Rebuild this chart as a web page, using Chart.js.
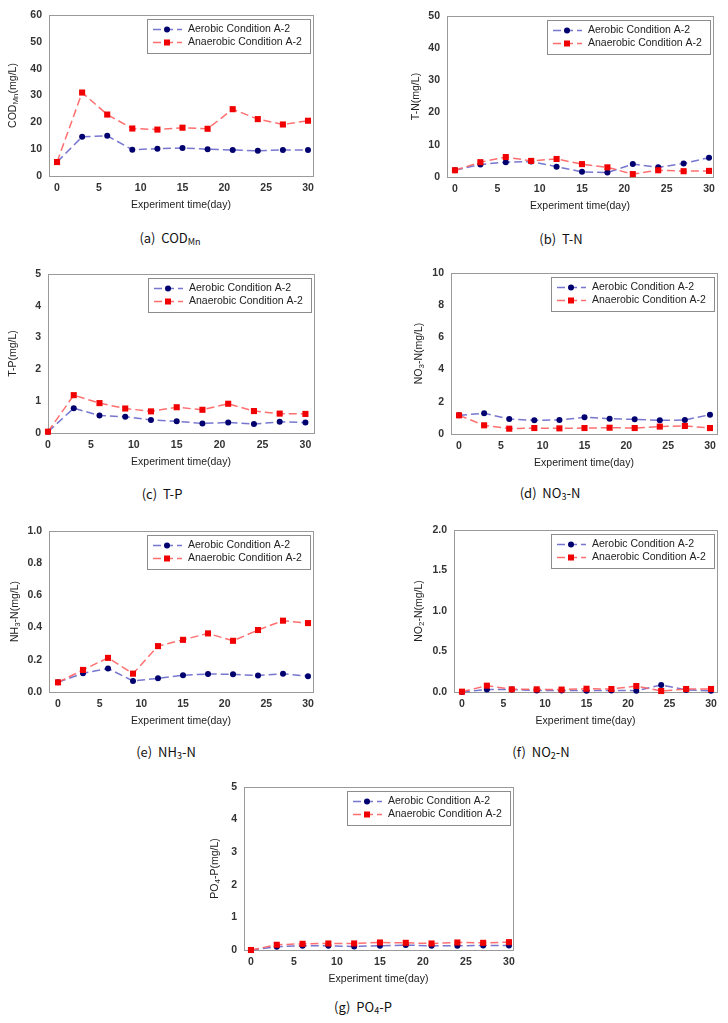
<!DOCTYPE html>
<html>
<head>
<meta charset="utf-8">
<script src="https://cdn.jsdelivr.net/npm/chart.js@4.4.0/dist/chart.umd.min.js"></script>
<style>
html, body { margin: 0; padding: 0; background: #fff; }
body { position: relative; width: 728px; height: 1023px; overflow: hidden; }
canvas.panel { position: absolute; }
.caption {
    position: absolute;
    transform: translate(-50%, -50%);
    font-family: 'Liberation Sans Narrow', 'Noto Sans CJK KR', sans-serif;
    font-size: 13px;
    color: #111;
    white-space: nowrap;
}
.caption sub { font-size: 9px; vertical-align: -2px; }
</style>
</head>
<body>
<script>
// Sampling days (x axis)
const days = [0, 3, 6, 9, 12, 15, 18, 21, 24, 27, 30];
const xTicks = [0, 5, 10, 15, 20, 25, 30];

// (a) COD_Mn
const codAerobic = [5.2, 14.6, 15.0, 9.8, 10.2, 10.4, 10.0, 9.7, 9.4, 9.7, 9.7];
const codAnaerobic = [5.2, 31.1, 22.9, 17.7, 17.3, 18.0, 17.6, 24.9, 21.2, 19.2, 20.6];
const codTicks = [0, 10, 20, 30, 40, 50, 60];
const codTickLabels = ['0', '10', '20', '30', '40', '50', '60'];

// (b) T-N
const tnAerobic = [2.1, 3.9, 4.6, 4.8, 3.2, 1.6, 1.4, 4.0, 3.0, 4.2, 6.0];
const tnAnaerobic = [2.1, 4.6, 6.2, 5.0, 5.6, 4.0, 3.0, 0.9, 2.1, 1.8, 1.9];
const tnTicks = [0, 10, 20, 30, 40, 50];
const tnTickLabels = ['0', '10', '20', '30', '40', '50'];

// (c) T-P
const tpAerobic = [0.04, 0.78, 0.55, 0.51, 0.41, 0.37, 0.30, 0.33, 0.28, 0.35, 0.33];
const tpAnaerobic = [0.04, 1.19, 0.94, 0.77, 0.68, 0.81, 0.73, 0.92, 0.69, 0.61, 0.60];
const tpTicks = [0, 1, 2, 3, 4, 5];
const tpTickLabels = ['0', '1', '2', '3', '4', '5'];

// (d) NO3-N
const no3Aerobic = [1.16, 1.29, 0.93, 0.85, 0.87, 1.04, 0.95, 0.91, 0.85, 0.87, 1.2];
const no3Anaerobic = [1.16, 0.54, 0.33, 0.37, 0.35, 0.37, 0.39, 0.37, 0.46, 0.50, 0.37];
const no3Ticks = [0, 2, 4, 6, 8, 10];
const no3TickLabels = ['0', '2', '4', '6', '8', '10'];

// (e) NH3-N
const nh3Aerobic = [0.06, 0.116, 0.146, 0.069, 0.085, 0.104, 0.112, 0.110, 0.102, 0.114, 0.098];
const nh3Anaerobic = [0.06, 0.137, 0.212, 0.114, 0.285, 0.324, 0.364, 0.318, 0.385, 0.443, 0.428];
const nh3Ticks = [0, 0.2, 0.4, 0.6, 0.8, 1.0];
const nh3TickLabels = ['0.0', '0.2', '0.4', '0.6', '0.8', '1.0'];

// (f) NO2-N
const no2Aerobic = [0.0, 0.03, 0.03, 0.02, 0.02, 0.016, 0.02, 0.016, 0.087, 0.025, 0.016];
const no2Anaerobic = [0.004, 0.078, 0.033, 0.033, 0.03, 0.04, 0.037, 0.074, 0.012, 0.037, 0.037];
const no2Ticks = [0, 0.5, 1.0, 1.5, 2.0];
const no2TickLabels = ['0.0', '0.5', '1.0', '1.5', '2.0'];

// (g) PO4-P
const po4Aerobic = [0.0, 0.10, 0.13, 0.13, 0.11, 0.13, 0.15, 0.13, 0.13, 0.14, 0.14];
const po4Anaerobic = [0.0, 0.16, 0.19, 0.20, 0.20, 0.23, 0.22, 0.20, 0.23, 0.22, 0.24];
const po4Ticks = [0, 1, 2, 3, 4, 5];
const po4TickLabels = ['0', '1', '2', '3', '4', '5'];

const seriesNames = ['Aerobic Condition A-2', 'Anaerobic Condition A-2'];

// Styles
const BLUE_LINE = 'rgba(95, 95, 200, 0.85)';
const BLUE_MARK = '#00006e';
const RED_LINE = 'rgba(255, 95, 95, 0.9)';
const RED_MARK = '#f00000';
const DASH = [8, 4];
const FRAME = '#9a9a9a';
const TICK_FONT = { family: "'Liberation Sans', Arial, sans-serif", size: 10.5, weight: 'bold' };
const TEXT_FONT = "10.5px 'Liberation Sans', Arial, sans-serif";

// Canvas margins around each plot area
const PAD_L = 56, PAD_T = 10, PAD_R = 12, PAD_B = 40;

// Panel layout (plot area in page pixels)
const panels = [
    { aer: codAerobic, ana: codAnaerobic, ticks: codTicks, labels: codTickLabels,
      title: [['COD', 0], ['Mn', 1], ['(mg/L)', 0]], tOff: 36,
      area: { l: 49, t: 15, r: 313, b: 176 }, xMin: -0.96, xMax: 30.6,
      caption: '(a)&nbsp; COD<sub>Mn</sub>', cap: [170, 238] },
    { aer: tnAerobic, ana: tnAnaerobic, ticks: tnTicks, labels: tnTickLabels,
      title: [['T-N(mg/L)', 0]], tOff: 31,
      area: { l: 447, t: 16, r: 713, b: 177 }, xMin: -0.94, xMax: 30.47,
      caption: '(b)&nbsp; T-N', cap: [561, 238] },
    { aer: tpAerobic, ana: tpAnaerobic, ticks: tpTicks, labels: tpTickLabels,
      title: [['T-P(mg/L)', 0]], tOff: 35,
      area: { l: 48, t: 274, r: 314, b: 433 }, xMin: 0, xMax: 31,
      caption: '(c)&nbsp; T-P', cap: [162, 493] },
    { aer: no3Aerobic, ana: no3Anaerobic, ticks: no3Ticks, labels: no3TickLabels,
      title: [['NO', 0], ['3', 1], ['-N(mg/L)', 0]], tOff: 32,
      area: { l: 451, t: 273, r: 717, b: 434 }, xMin: -0.96, xMax: 30.84,
      caption: '(d)&nbsp; NO<sub>3</sub>-N', cap: [550, 493] },
    { aer: nh3Aerobic, ana: nh3Anaerobic, ticks: nh3Ticks, labels: nh3TickLabels,
      title: [['NH', 0], ['3', 1], ['-N(mg/L)', 0]], tOff: 34,
      area: { l: 49, t: 531, r: 313, b: 692 }, xMin: -1.08, xMax: 30.6,
      caption: '(e)&nbsp; NH<sub>3</sub>-N', cap: [166, 752] },
    { aer: no2Aerobic, ana: no2Anaerobic, ticks: no2Ticks, labels: no2TickLabels,
      title: [['NO', 0], ['2', 1], ['-N(mg/L)', 0]], tOff: 35,
      area: { l: 454, t: 530, r: 717, b: 692 }, xMin: -0.96, xMax: 30.72,
      caption: '(f)&nbsp; NO<sub>2</sub>-N', cap: [541, 752] },
    { aer: po4Aerobic, ana: po4Anaerobic, ticks: po4Ticks, labels: po4TickLabels,
      title: [['PO', 0], ['4', 1], ['-P(mg/L)', 0]], tOff: 29,
      area: { l: 244, t: 787, r: 513, b: 950 }, xMin: -0.81, xMax: 30.47,
      caption: '(g)&nbsp; PO<sub>4</sub>-P', cap: [363, 1007] }
];

// Draw a point marker like the chart's own
function drawMarker(ctx, kind, x, y) {
    ctx.setLineDash([]);
    if (kind === 0) {
        ctx.fillStyle = BLUE_MARK;
        ctx.beginPath();
        ctx.arc(x, y, 3, 0, Math.PI * 2);
        ctx.fill();
    } else {
        ctx.fillStyle = RED_MARK;
        ctx.fillRect(x - 3, y - 3, 6, 6);
    }
}

// Rotated y title with subscripts
function drawYTitle(ctx, parts, cx, cy) {
    const mainFont = TEXT_FONT;
    const subFont = "8px 'Liberation Sans', Arial, sans-serif";
    let total = 0;
    parts.forEach(p => {
        ctx.font = p[1] ? subFont : mainFont;
        total += ctx.measureText(p[0]).width;
    });
    ctx.save();
    ctx.translate(cx, cy);
    ctx.rotate(-Math.PI / 2);
    ctx.fillStyle = '#222';
    ctx.textBaseline = 'middle';
    ctx.textAlign = 'left';
    let x = -total / 2;
    parts.forEach(p => {
        ctx.font = p[1] ? subFont : mainFont;
        ctx.fillText(p[0], x, p[1] ? 3 : 0);
        x += ctx.measureText(p[0]).width;
    });
    ctx.restore();
}

// Frame, legend and axis titles
const panelDecor = {
    id: 'panelDecor',
    beforeDatasetsDraw(chart) {
        const a = chart.chartArea;
        const ctx = chart.ctx;
        ctx.save();
        ctx.strokeStyle = FRAME;
        ctx.lineWidth = 1;
        ctx.strokeRect(Math.round(a.left) + 0.5, Math.round(a.top) + 0.5,
            Math.round(a.right - a.left), Math.round(a.bottom - a.top));
        ctx.restore();
    },
    afterDraw(chart, args, opts) {
        const a = chart.chartArea;
        const ctx = chart.ctx;
        ctx.save();

        // Legend box
        const w = 163, h = 34;
        const bx = Math.round(a.right - 3 - w), by = Math.round(a.top + 4);
        ctx.fillStyle = '#fff';
        ctx.fillRect(bx, by, w, h);
        ctx.strokeStyle = '#8c8c8c';
        ctx.lineWidth = 1;
        ctx.strokeRect(bx + 0.5, by + 0.5, w, h);
        seriesNames.forEach((name, i) => {
            const cy = by + 10.5 + i * 13;
            ctx.strokeStyle = i === 0 ? BLUE_LINE : RED_LINE;
            ctx.lineWidth = 1.5;
            ctx.setLineDash(DASH);
            ctx.beginPath();
            ctx.moveTo(bx + 6, cy);
            ctx.lineTo(bx + 35, cy);
            ctx.stroke();
            drawMarker(ctx, i, bx + 20, cy);
            ctx.fillStyle = '#222';
            ctx.font = TEXT_FONT;
            ctx.textBaseline = 'middle';
            ctx.textAlign = 'left';
            ctx.fillText(name, bx + 41, cy);
        });

        // X title
        ctx.fillStyle = '#222';
        ctx.font = TEXT_FONT;
        ctx.textAlign = 'center';
        ctx.textBaseline = 'middle';
        ctx.fillText('Experiment time(day)', (a.left + a.right) / 2, a.bottom + 29);

        // Y title
        drawYTitle(ctx, opts.title, a.left - opts.tOff, (a.top + a.bottom) / 2);
        ctx.restore();
    }
};

function buildPanel(p) {
    const canvas = document.createElement('canvas');
    canvas.className = 'panel';
    const w = p.area.r - p.area.l + PAD_L + PAD_R;
    const h = p.area.b - p.area.t + PAD_T + PAD_B;
    canvas.width = w;
    canvas.height = h;
    canvas.style.width = w + 'px';
    canvas.style.height = h + 'px';
    canvas.style.left = (p.area.l - PAD_L) + 'px';
    canvas.style.top = (p.area.t - PAD_T) + 'px';
    document.body.appendChild(canvas);

    const cap = document.createElement('div');
    cap.className = 'caption';
    cap.innerHTML = p.caption;
    cap.style.left = p.cap[0] + 'px';
    cap.style.top = p.cap[1] + 'px';
    document.body.appendChild(cap);

    new Chart(canvas, {
        type: 'line',
        data: {
            datasets: [{
                label: seriesNames[1],
                data: days.map((d, i) => ({ x: d, y: p.ana[i] })),
                borderColor: RED_LINE,
                borderWidth: 1.5,
                borderDash: DASH,
                pointStyle: 'rect',
                pointRadius: 4.3,
                pointBackgroundColor: RED_MARK,
                pointBorderWidth: 0,
                tension: 0,
                clip: false
            }, {
                label: seriesNames[0],
                data: days.map((d, i) => ({ x: d, y: p.aer[i] })),
                borderColor: BLUE_LINE,
                borderWidth: 1.5,
                borderDash: DASH,
                pointStyle: 'circle',
                pointRadius: 3,
                pointBackgroundColor: BLUE_MARK,
                pointBorderWidth: 0,
                tension: 0,
                clip: false
            }]
        },
        options: {
            responsive: false,
            animation: false,
            devicePixelRatio: 1,
            layout: { padding: { left: 0, top: PAD_T, right: PAD_R, bottom: 0 } },
            plugins: {
                legend: { display: false },
                tooltip: { enabled: false },
                panelDecor: { title: p.title, tOff: p.tOff }
            },
            scales: {
                x: {
                    type: 'linear',
                    min: p.xMin,
                    max: p.xMax,
                    grid: { display: false, drawTicks: false },
                    border: { display: false },
                    ticks: {
                        autoSkip: false,
                        maxRotation: 0,
                        padding: 6,
                        color: '#333',
                        font: TICK_FONT,
                        callback: v => String(v)
                    },
                    afterBuildTicks: scale => {
                        scale.ticks = xTicks.map(v => ({ value: v }));
                    },
                    afterFit: scale => {
                        scale.height = PAD_B;
                        scale.paddingLeft = 0;
                        scale.paddingRight = 0;
                    }
                },
                y: {
                    type: 'linear',
                    min: p.ticks[0],
                    max: p.ticks[p.ticks.length - 1],
                    grid: { display: false, drawTicks: false },
                    border: { display: false },
                    ticks: {
                        padding: 7,
                        color: '#333',
                        font: TICK_FONT,
                        callback: (v, i) => p.labels[i]
                    },
                    afterBuildTicks: scale => {
                        scale.ticks = p.ticks.map(v => ({ value: v }));
                    },
                    afterFit: scale => {
                        scale.width = PAD_L;
                        scale.paddingTop = 0;
                        scale.paddingBottom = 0;
                    }
                }
            }
        },
        plugins: [panelDecor]
    });
}

panels.forEach(buildPanel);
</script>
</body>
</html>
